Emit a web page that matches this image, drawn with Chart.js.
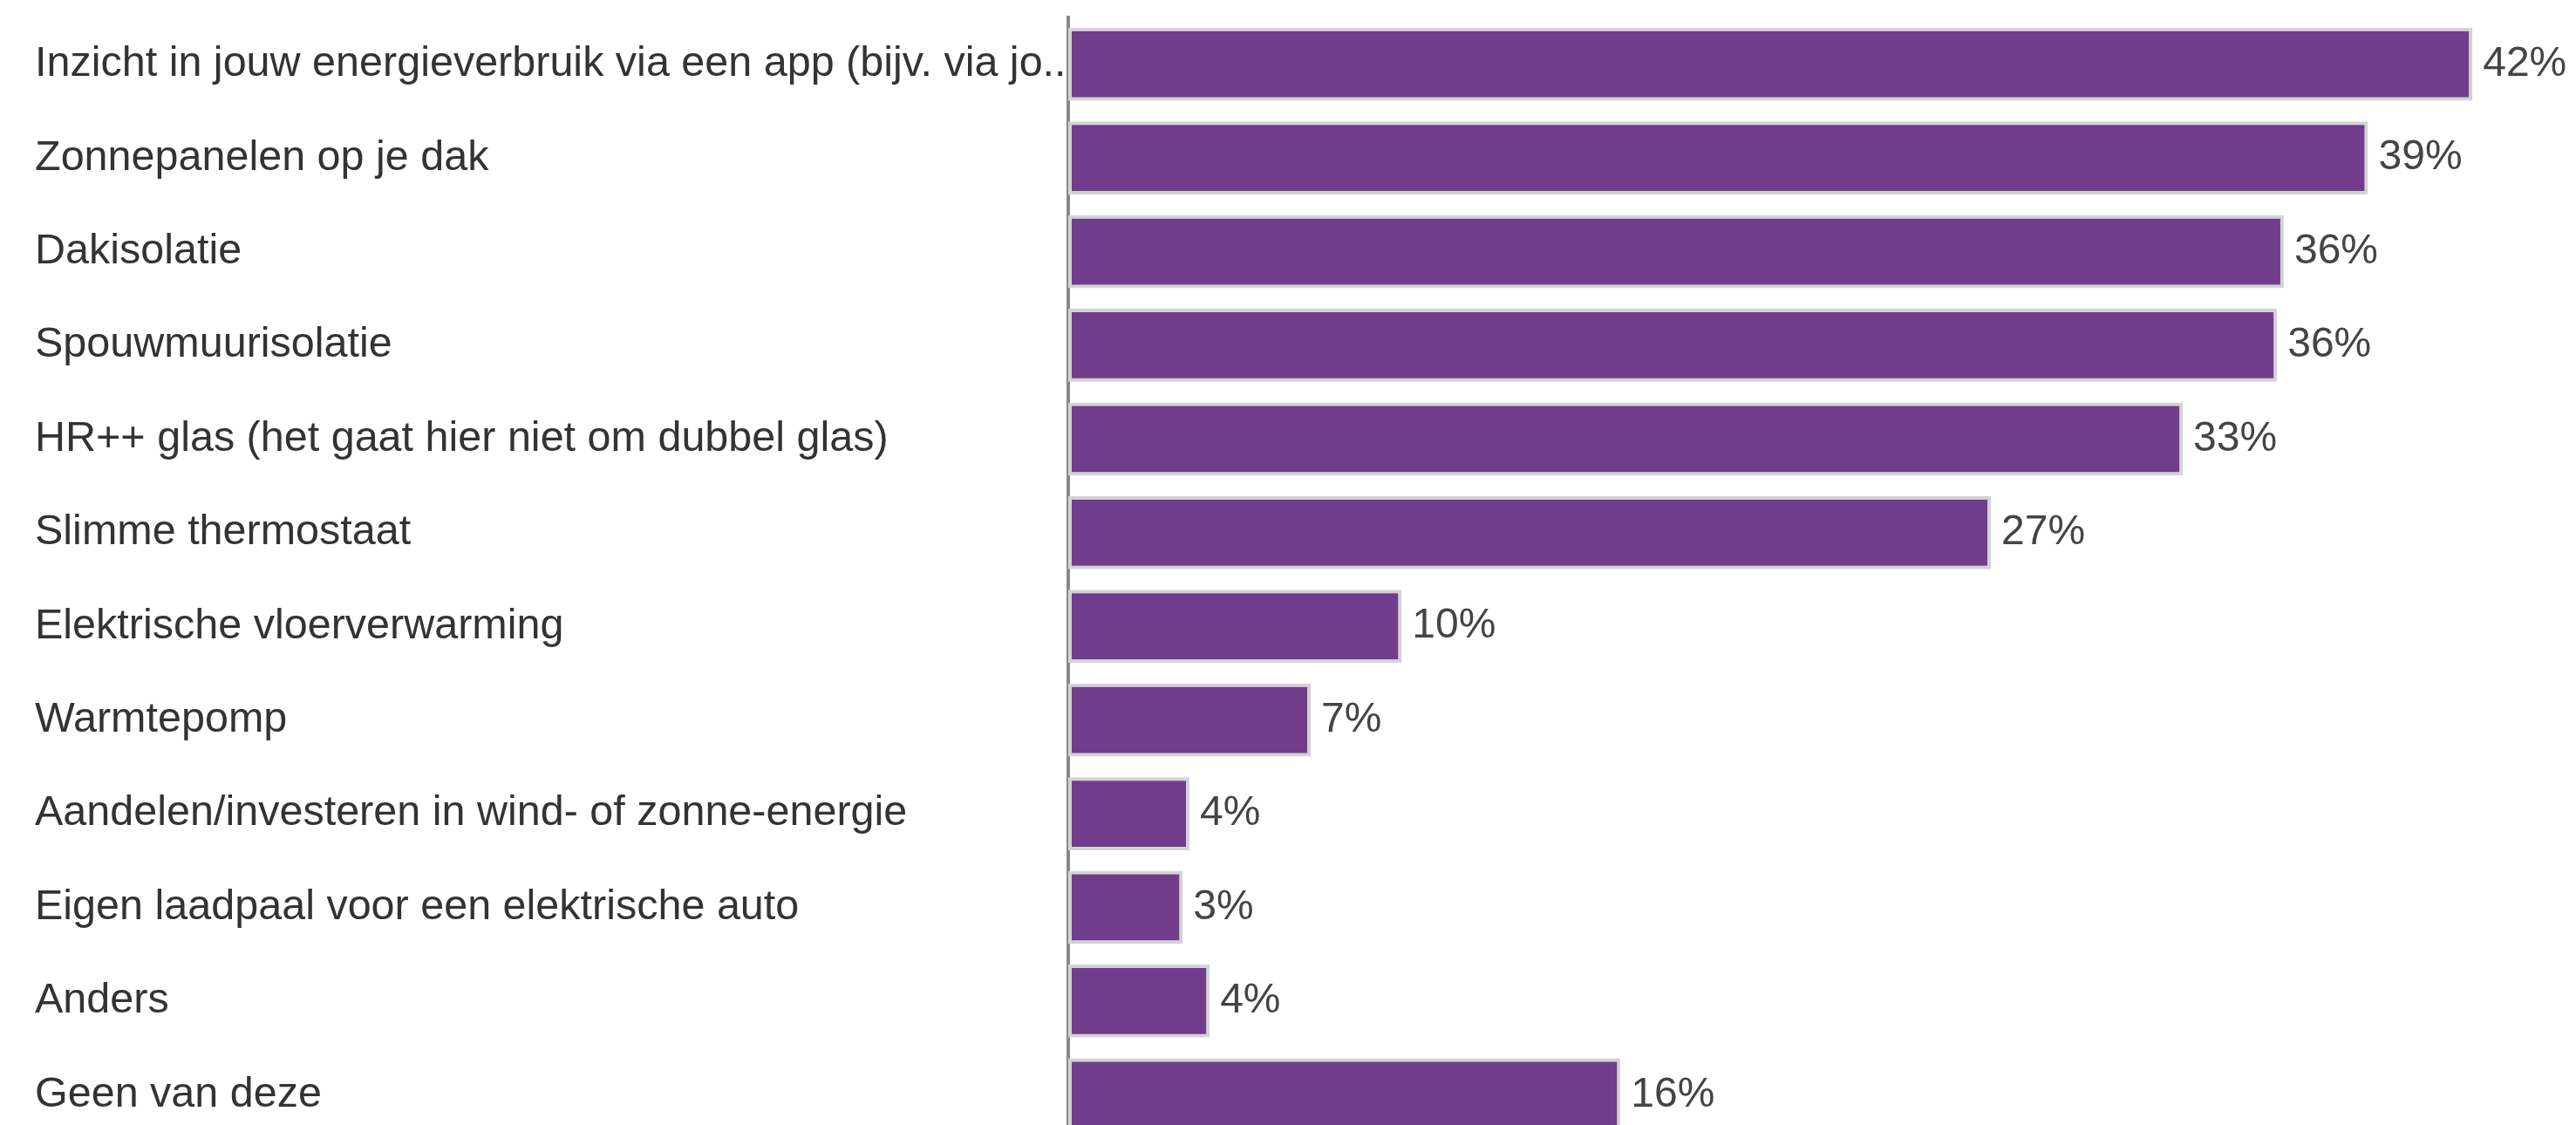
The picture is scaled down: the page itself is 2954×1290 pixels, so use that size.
<!DOCTYPE html>
<html>
<head>
<meta charset="utf-8">
<script src="https://cdn.jsdelivr.net/npm/chart.js@4/dist/chart.umd.min.js"></script>
<style>
  html, body { margin: 0; padding: 0; background: #fff; overflow: hidden; }
  #barChart { display: block; }
</style>
</head>
<body>
<canvas id="barChart" width="2954" height="1310"></canvas>
<script>
  const categories = [
    'Inzicht in jouw energieverbruik via een app (bijv. via jo..',
    'Zonnepanelen op je dak',
    'Dakisolatie',
    'Spouwmuurisolatie',
    'HR++ glas (het gaat hier niet om dubbel glas)',
    'Slimme thermostaat',
    'Elektrische vloerverwarming',
    'Warmtepomp',
    'Aandelen/investeren in wind- of zonne-energie',
    'Eigen laadpaal voor een elektrische auto',
    'Anders',
    'Geen van deze'
  ];
  // percentages (labels show them rounded)
  const values = [41.7, 38.6, 36.1, 35.9, 33.1, 27.4, 9.9, 7.2, 3.6, 3.4, 4.2, 16.4];
  const xMax = 44;

  const labelFont = '"Liberation Sans", Arial, sans-serif';

  const valueLabels = {
    id: 'valueLabels',
    afterDatasetsDraw(chart) {
      const ctx = chart.ctx;
      const meta = chart.getDatasetMeta(0);
      ctx.save();
      ctx.font = '48px ' + labelFont;
      ctx.fillStyle = '#444';
      ctx.textAlign = 'left';
      ctx.textBaseline = 'middle';
      meta.data.forEach((bar, i) => {
        ctx.fillText(Math.round(values[i]) + '%', bar.x + 12, bar.y);
      });
      ctx.restore();
    }
  };

  const barCanvas = document.getElementById('barChart');
  new Chart(barCanvas.getContext('2d'), {
    type: 'bar',
    data: {
      labels: categories,
      datasets: [{
        data: values,
        backgroundColor: '#713c8b',
        borderColor: '#d3d3d3',
        borderWidth: 4,
        borderSkipped: false,
        barPercentage: 0.78,
        categoryPercentage: 1
      }]
    },
    options: {
      indexAxis: 'y',
      responsive: false,
      animation: false,
      devicePixelRatio: 1,
      layout: { padding: { left: 40, right: 30, top: 20, bottom: 1 } },
      plugins: {
        legend: { display: false },
        tooltip: { enabled: false }
      },
      scales: {
        x: {
          display: false,
          min: 0,
          max: xMax
        },
        y: {
          grid: { display: false },
          border: { display: true, color: '#888', width: 4 },
          ticks: {
            autoSkip: false,
            crossAlign: 'far',
            color: '#333',
            font: { size: 48.5, family: labelFont }
          },
          afterFit(scale) {
            scale.width = 1185;
            // no extra room for half-labels at the ends
            scale.paddingTop = 0;
            scale.paddingBottom = 0;
          }
        }
      }
    },
    plugins: [valueLabels]
  });
</script>
</body>
</html>
